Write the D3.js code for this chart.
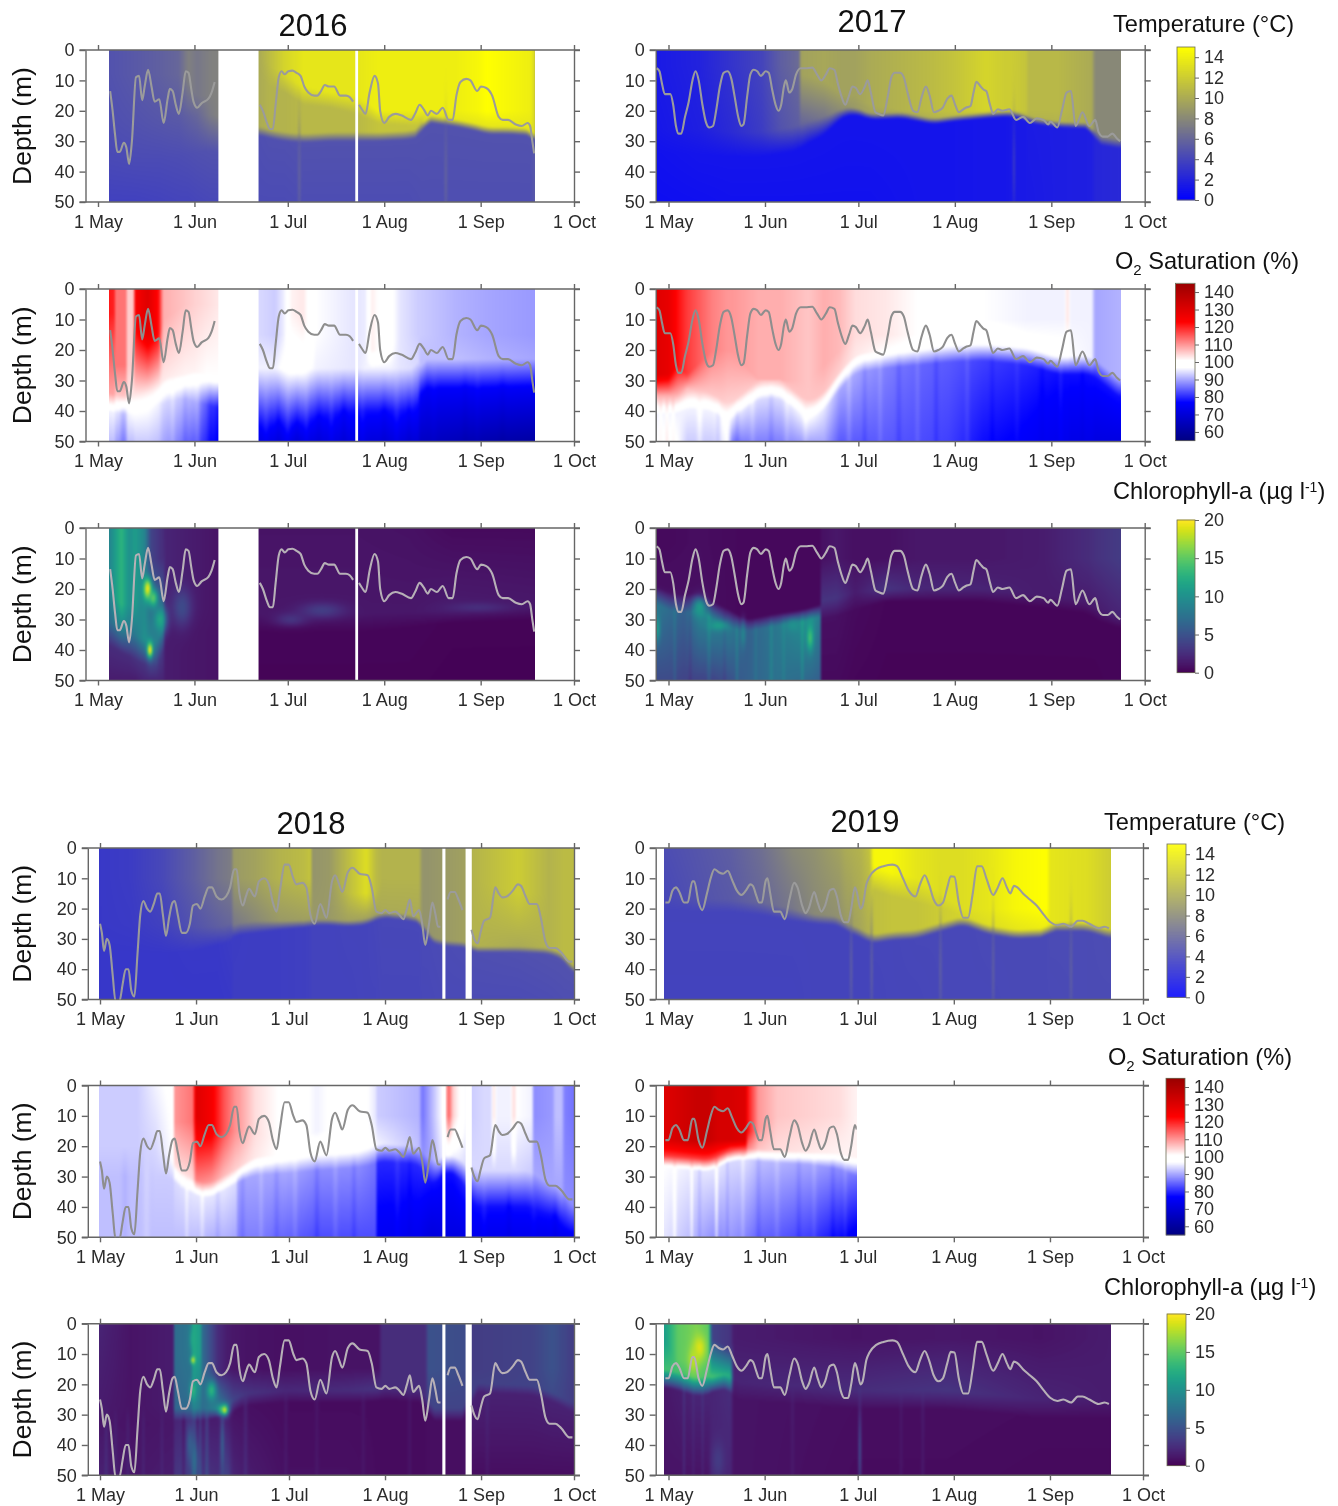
<!DOCTYPE html>
<html><head><meta charset="utf-8">
<script src="https://cdn.jsdelivr.net/npm/d3@7/dist/d3.min.js"></script>
<style>
html,body{margin:0;padding:0;background:#fff}
#wrap{position:relative;width:1338px;height:1506px;overflow:hidden}
canvas{position:absolute;z-index:1}
svg{position:absolute;left:0;top:0;z-index:2}
text{font-family:"Liberation Sans",Arial,sans-serif}
</style></head><body><div id="wrap"></div>
<script>
// ---------- Mixed-layer line, [day after 1 May, depth m] ----------
const line16a=[[3.9,13.5],[4.7,20],[5.5,28],[6.2,33.5],[7,33.5],[8.3,30.5],[9.1,32],[10,37.5],[10.9,30],[12.2,9],[13.2,8.5],[14.2,16.5],[15,12],[16.1,6.5],[17.2,12],[18.2,17],[19.7,16.2],[21.1,24],[22.4,16],[23.1,12.8],[24,13.5],[25,18],[26,21],[27.2,14],[28.2,7],[29.1,7.5],[30,13],[30.7,17],[31.9,19],[33.3,17.5],[35.5,16],[36.5,14],[37.5,10.5]];
const line16b=[[52,18],[53,20],[54.3,24],[55.3,26],[56.2,26],[57.1,18],[58.1,9],[59,7],[60,8],[61.2,7],[62.5,6.8],[63.8,7.5],[65.1,8.5],[66.3,12],[67.6,14],[69.5,15],[70.5,15],[71.7,13.5],[72.9,11.5],[74.2,12],[75.9,12],[77.8,15],[79.7,15],[80.9,15.5],[82,17]];
const line16c=[[83.9,18],[84.8,19.5],[86,21],[87.3,14],[88.9,8.5],[90,11],[90.7,20],[92,24],[93.6,22],[95.6,21],[97.5,21.5],[100.6,23],[101.9,21],[103.4,18],[104.7,19.5],[106,21.5],[107,20],[108.9,21],[110.8,19],[112.7,23],[114,23],[115.2,15],[116.5,10.5],[118.4,9.5],[119.7,10],[121.9,13.5],[123.1,12],[124.8,12.5],[126.7,15],[128.8,22],[130.1,23],[131.8,23],[134.3,24.5],[136.2,25],[138.1,24],[138.9,25],[139.6,30],[140.2,34]];
const line17=[[-3.8,6],[-2.9,7],[-2.1,11],[-1.2,14.5],[.6,14.5],[1.5,18],[2.4,25],[3.2,27.5],[4.1,27.5],[5.3,22],[6.5,17],[7.7,10],[8.7,7],[9.7,10],[10.9,18],[12.1,24],[13.1,25.5],[14.3,25],[15.3,20],[16.5,12],[17.7,7.5],[19,7],[20.2,9.5],[21.2,15],[22.4,22],[23.4,25],[24.1,24.5],[25.3,15],[26.3,8],[27.4,6.5],[28.5,7],[29.7,8.5],[31.2,7],[32.2,7.5],[33.3,13],[34.4,18],[35.3,20],[36.2,18],[37.1,12],[37.7,10],[38.8,14],[39.7,13],[41,8],[42.5,6],[44,6],[46.2,5.8],[47.7,8],[49.1,10],[50.6,8],[51.8,6],[53.3,6.5],[54.4,11],[55.5,15],[56.8,18],[58,15],[59.1,12],[60.2,12.5],[61.6,14.5],[63.1,12],[64,10],[65,14],[66.5,20.5],[67.5,21],[69,21.5],[70.5,15],[71.6,9],[72.7,7.5],[74.4,7.5],[75.6,9],[76.8,14],[78.6,20],[80,20.5],[81.2,16],[82.7,12],[83.9,15],[85.3,20.5],[86.7,20],[88.1,19],[89.6,16],[90.9,15],[92.1,18],[93.3,20.5],[94.7,19.5],[95.5,19],[97,18.5],[98,14],[98.9,10.5],[100.3,12],[101.2,13],[102.1,13.5],[103.3,18],[104.3,21],[105.8,19.5],[107.3,20],[109.5,19.5],[111.7,23],[113.9,22],[116.1,24],[118.3,22.5],[120.5,23],[122,24.5],[122.7,23.5],[124.9,25.5],[126.4,20],[127.9,14],[129.3,13.5],[130.8,25],[133,20.5],[135.2,25],[137.1,23],[138.2,27],[139.6,28.5],[141.1,28.5],[142.6,27.5],[144,29],[145.1,30]];
const line18a=[[0,25],[.6,28],[1.3,34],[2.2,30],[3.1,32],[4.1,42],[5,50.5],[6.3,50.5],[7.3,45],[8.3,40],[9.2,40],[10.1,47],[11.1,49],[12.1,35],[13,22],[14,17.5],[15.2,20],[16.2,21],[17.5,18],[18.5,15],[19.3,15],[20.3,22],[21.3,29],[22.3,23],[23.4,18],[24.1,17.5],[25.1,22],[26.4,28],[27.7,28],[29,25],[30,19],[31.3,18.5],[32.4,20],[33.8,16],[35.1,13],[36.1,13],[37.6,16],[39.2,17],[40.7,16],[42,13],[43.3,7],[44.1,7],[45,15],[46.1,19],[47.1,16],[48.1,13.5],[50,16],[51.3,11],[53,10],[54.5,12],[55.8,18],[57,21],[58.1,14],[59.6,5.5],[60.9,5.5],[62.4,10],[63.4,12],[65.3,11.5],[66.6,13],[67.9,22],[69.3,25],[71.1,18.5],[73.1,23],[74.9,11],[75.9,9],[77.2,12],[78.2,14.5],[80,8],[81.5,6.5],[83.8,8.5],[86.4,9],[87.7,13],[89.2,21],[90.9,21.5],[92.1,20.5],[93.4,21.5],[95.3,21],[96.6,22],[97.9,23.5],[99.1,20],[100,17],[101.1,22.5],[103,20.5],[104,25],[105,32],[106.2,25],[107.3,18],[108.3,22],[109.1,26],[109.9,26]];
const line18b=[[112.2,17],[113.2,14.5],[114.5,14.5],[115.7,17],[117,20.5]];
const line18c=[[119.9,27],[120.8,30],[121.9,31.5],[122.8,28],[124,24],[125.9,23],[127.6,13],[128.7,15],[129.8,16.3],[131.3,16],[133.3,14],[134.9,12],[135.9,12.5],[137.4,16],[138.7,18.5],[141,18.5],[142.3,23],[143.8,31],[145.1,33],[147,33],[148.9,34.5],[151.5,37.5],[152.5,37.5]];
const line19=[[-1,18],[0,18],[1.3,14],[2.4,13],[3.5,14.5],[5,18],[6.2,18],[7.7,11],[8.3,11],[9.7,18],[10.9,20.5],[12.4,15],[13.6,10],[14.8,7],[16.2,8],[17.6,8.5],[19.1,7.5],[20.5,10.5],[22,14],[23.5,15.5],[25,14],[26.4,12],[27.2,12.5],[28.4,16],[29.2,18],[30.1,18],[31.3,11],[31.9,10],[32.8,15],[34,21],[35.3,21],[36,21],[37.5,23.5],[39,17],[40.5,11.5],[41.6,13],[43.1,19],[44.2,21.5],[45.2,20],[47,14.5],[48.1,18],[49.3,21],[50.5,19],[52,14],[53.2,13.5],[54.3,16],[55.5,22],[56.7,24.5],[57.9,24.5],[58.9,20],[60.1,13],[60.7,14.5],[61.9,20],[62.6,19],[63.8,12],[64.8,9.5],[67,7],[69.3,6],[72.2,5.5],[73.7,6],[75.6,10],[77.4,14],[79.6,16],[81.1,12],[82.6,9],[84,12],[85.5,17],[87,19],[88.5,18],[89.9,13],[91,9.3],[92.2,9.5],[93.6,18],[95.1,23],[96.6,23],[98.1,15],[99.5,6],[101,6],[102.5,10],[104.7,15.5],[106.2,13],[107.7,10],[109.1,13],[110.2,15],[111.4,12.5],[112.5,13],[114.3,15],[116.5,17],[118.7,19],[121,22],[123.2,24.5],[125.4,25.5],[127.3,25],[129.8,26],[132,24],[133.5,24],[135.7,25],[138.7,26.5],[140.6,26],[142,26.5]];

// ---------- Profiles read per date: [day, surface, hold depth, upper, interface depth, lower, deep, soft, optional depth where upper is reached] ----------
const temp16=[[3.6,4.8,8,4.6,30,4.3,3.8,6],[12,5.2,8,4.8,30,4.4,3.8,6],[20,5.6,8,5,30,4.4,3.9,6],[26,6,8,5.2,29,4.5,4,6],[29,7.5,10,5.6,28,4.6,4,6],[32,7,15,6,28,4.7,4.1,6],[36,7.5,15,7.2,27,4.8,4.2,6],[38.7,7.6,15,7.6,28,4.8,4.2,6],
[51.6,10,0,10,26.5,4.6,4.4,1.5,8],[55,11,5,10.5,27.5,4.7,4.4,1.5,12],[60,12.5,8,10.5,28.5,4.7,4.4,1.5,14],[66,13.5,12,10.8,29,4.8,4.5,1.5,18],[75,13.5,14,10.8,28.5,4.8,4.5,1.5,19],[83,13.5,15,10.8,28.5,4.8,4.5,1.5,21],[90,14,20,11.5,28.5,4.8,4.5,1.5,24],[100,14,20,11.5,28,4.8,4.5,1.5,25],[104,14,20,11.5,27,4.8,4.6,1.5,25],[105,14,20,13,22.5,4.8,4.6,1.2],[115,14,20,13.5,24,4.8,4.6,1.2],[122,14.5,20,13.5,25.5,4.8,4.6,1.2],[125,15,20,13.5,26.5,4.8,4.6,1.2],[132,14.5,20,13.5,26.5,4.8,4.6,1.2],[139,14,20,13.5,27,4.8,4.6,1.2],[140.2,13,20,13,28,5,5,1.2],[140.6,8,20,8,30,6,6,1.2]];
const temp17=[[-4,1.5,5,1.3,30,1,.8,4],[10,2,5,1.8,30,1.2,.9,4],[20,3,5,2.5,31,1.2,1,4],[30,4,5,3.5,31,1.2,1,4],[36,5.5,5,4.8,30,1.2,1,4],[42,6.3,5,5.5,29,1.2,1,4],[42.5,9.5,8,6,28,1.2,1,4],[50,9.8,10,7,25,1.2,1,3],[56,9.5,15,8.5,20.5,1.2,1,1.5],[60,9.5,15,9,20,1.2,1,1.2],[65,10,18,9.5,22,1.2,1,1],[75,10.5,20,9.8,21.5,1.2,1.1,1],[85,11,20,10.5,23.5,1.2,1.2,1],[92,11.5,20,11,22.5,1.2,1.2,1],[102,12.5,20,11.5,21.5,1.3,1.3,1],[108,12,20,11.5,21,1.3,1.3,1],[110,12,20,11,21,1.4,1.4,1],[115,11.5,20,11,22,1.5,1.5,1],[115.5,10.8,20,10.5,23,1.6,1.5,1],[125,10.8,20,10.5,24.5,1.7,1.7,1],[136,10,20,10,25,1.8,1.8,1],[137,8,20,8,29.5,2.2,2.2,1.5],[145.5,8,20,8,31,2.4,2.4,1.5]];
const oxy16=[[3.6,121,8,109,37,96,92,3],[5.3,120,8,109,37,96,92,3],[5.5,113,25,106,38,95,90,3],[9,113,25,106,38,93,88,3],[9.5,105,25,103,38,96,92,3],[11.4,106,25,103,38,97,92,3],[11.9,124,12,103,38,97,93,3],[16,130,14,103,37,97,93,3],[19.5,122,15,103,35,96,92,3],[21,108,10,103,33,94,90,4],[28,106,5,102,32,92,86,4],[31,105,5,102,32,90,84,5],[35,104,5,101,33,84,80,5],[38.7,103,5,101,34,79,76,5],
[51.6,94,15,96,35,78,73,9],[57,93,15,96,35,78,73,9],[60,96,15,98,35,78,73,9],[62,102,8,99,35,78,72,9],[66,103,10,99,35,78,72,9],[70,97,15,96,34,78,72,8],[82,95,15,95,33,78,72,7],[83,95,15,95,33,78,72,7],[86,95.5,15,96,33,78,72,7],[88,102.5,20,96,33,78,71,7],[90,101,20,96,33,78,71,7],[94,98,20,96,33,78,71,7],[97,95,15,95,33,78,71,7],[103,93,15,94,33,78,70,7],[103.5,93,15,92,28,76,67,5],[115,91,15,92,28,76,65,5],[125,90,15,91,28,76,63,5],[140.6,89,15,90,28,75,61,5]];
const oxy17=[[-4,130,28,108,38,96,97,3],[0,128,28,108,38,96,98,3],[3,122,25,108,38,96,97,3],[6,118,28,106,36,96,93,3],[14,112,20,106,37,96,93,3],[19,110,20,105,41,98,97,3],[20.5,110,20,105,40,95,87,3],[29,108,30,106,33,94,87,3],[36,108,30,106,33,94,87,3],[45,106,30,106,40,97,90,3],[50,108,25,106,37,95,90,3],[55,107,20,105,30,90,84,3],[60,104,15,103,24.5,90,84,3],[70,103,15,101,23,87,84,3],[80,101,15,100,22,85,83,3],[90,98,10,99,21,84,82,3],[101,97,10,99,20.5,82,78,3],[115,96,10,98,22,80,76,3],[125,96,10,98,25,78,74,3],[127.3,96,10,98,25,78,74,3],[127.8,103,10,98,25,78,74,3],[128.6,103,10,98,25,78,74,3],[129,96,10,97,25,78,73,3],[136,96,10,96,25,78,73,3],[137,90,10,90,26,78,72,3],[145.5,91,10,91,33,78,72,3]];
const chl16=[[3.6,9,20,7,34,2.5,1.5,4],[7.5,13,25,9,37,2.5,1.5,4],[10,10,25,8,38,2.5,1.5,4],[12,11,25,8,39,2.8,1.5,4],[15,9,15,10,41,3,2,4],[17,4,10,9,41,4,2,4],[21,2.5,10,8,42,3,2,4],[21.5,2,0,2,30,1.5,1.5,4],[30,1.5,0,1.5,30,1.2,1.2,4],[38.7,1,0,1,30,1,1,4],
[51.6,1,0,1.2,31,.3,.2,3],[83,1,0,1.2,31,.3,.2,3],[100,.9,0,1.2,30,.3,.2,2.5],[114,.5,0,1.5,29,.2,.1,2],[140.6,.5,0,1.3,28,.2,.1,2]];
const chl17=[[-4,.5,5,.8,22,8,4.5,3],[0,.5,5,.8,24,7,4.5,3],[5,.6,5,.8,25,6,4,3],[10,.7,5,.8,24,9,4,3],[14,.6,5,.7,27,9,4,3],[20,.5,5,.5,30,8,5,3],[25,.4,5,.4,32,6,6,2],[35,.4,5,.4,30,8,7.5,2],[42,.4,5,.4,29,9.5,7,2],[46,.4,5,.4,28,10,6.5,2],[48.8,.4,5,.4,27,8,6,2],[49,.8,10,3,27,.8,.5,3],[54,1.2,10,3,26,.8,.5,3],[60,.8,10,1.5,24,.5,.3,3],[70,.8,10,3,22,.3,.2,2],[80,1.2,10,2.2,22,.3,.2,2],[100,1.2,10,2,22,.3,.2,2],[120,1.5,10,1.5,24,.3,.2,2],[135,2.5,10,1.5,26,.3,.2,2],[137,2.8,10,1.5,28,.3,.2,2],[145.5,3.5,10,2,31,.3,.3,2]];
const temp18=[[-.3,3.3,10,3.3,30,3.2,3.2,5],[10,3.5,10,3.4,30,3.2,3.2,5],[20,4.2,10,3.8,30,3.2,3.2,5],[30,5.5,10,4.8,30,3.3,3.2,4],[38,6.8,10,5.5,29,3.3,3.2,3],[42.5,7.3,10,6,28,3.5,3.3,3],[43,9,10,7,27,3.5,3.6,2],[50,9.5,10,8,26,3.6,3.6,2],[58,10.5,10,9,25.5,3.6,3.6,1.5],[66,11,10,9.3,25,3.7,3.7,1.2],[68,11.5,10,9.3,25,3.8,3.8,1.2],[68.5,8.7,10,9,24.5,3.9,3.9,1],[74,9,10,9,24.5,3.9,3.9,1],[80,11,15,9.5,25,4,3.9,1],[86,13,15,9.5,24.5,4,4,1],[89,11,15,9.5,23,4.1,4,1],[91,10.5,10,10,22,4.2,4.1,1],[100,10.5,10,10,23,4.2,4.1,1],[103,10.5,10,10,24,4.2,4.1,1],[104,8.7,10,8.7,24,4.3,4.2,1],[106,8.7,10,8.7,30,4.3,4.2,1],[111,9,10,9,31.5,4.4,4.3,1],[119,9.5,10,9.5,32,4.5,4.3,1],[120,10.5,10,10.5,33.5,4.6,4.4,1],[135,12,15,10,33.5,4.7,4.4,1],[145,10.5,15,10.5,34,4.8,4.5,1],[150,11,15,11,36,4.8,4.6,1.2],[153,11,15,11,41,4.8,4.6,1.2]];
const oxy18=[[-.3,93,0,93,25,92,92,5],[12,93,0,93,25,92,92,5],[18,96,0,94,25,93,92,5],[23.7,98,0,97,27,93,92,3],[24,110,12,104,30,94,92,3],[30,113,12,104,33,95,92,2.5],[31,130,10,112,34,95,92,2.5],[36,125,15,110,34.5,95,91,2.5],[40,116,15,107,32,95,91,2.5],[44,110,15,105,30,94,90,2.5],[44.5,110,15,105,29.5,90,87,2.5],[50,104,15,103,26.5,90,87,3],[60,100,20,100,26,90,85,3],[70,96,15,99,25,88,83,3],[83,100,15,99,24,88,83,3],[89,95,10,97,23,86,83,3],[89.5,93,10,96,22,80,75,3],[103,91,10,92,23,80,74,3],[104,86,10,88,24,80,73,3],[107,91,10,90,30,78,71,4],[111,98,10,96,26,78,72,3],[112.5,115,10,98,25,78,72,3],[114,105,10,96,26,78,72,3],[119,95,10,94,30,80,72,4],[120,93,10,94,34,78,74,6],[124,94,10,94,34,78,74,6],[126.3,94,10,94,34,78,74,6],[126.8,103,10,94,34,78,74,6],[127.5,103,10,94,34,78,74,6],[128,96,10,94,34,78,74,6],[132.5,96,10,94,34,78,74,6],[133,103,10,94,34,78,74,6],[134,104,10,94,34,78,74,6],[134.5,97,10,94,34,78,74,6],[139.5,96,10,93,34,78,74,6],[140,88,10,90,35,78,74,6],[146,89,10,90,38,78,74,5],[147,92,10,90,38,78,74,5],[149,92,10,90,39,78,74,5],[150,87,10,88,42,78,74,5],[153,86,10,88,44,78,74,4]];
const chl18=[[-.3,2,0,1.5,30,1.2,1.8,3],[10,1,0,1,30,1,1.2,3],[23.7,1.5,0,1.5,30,1.2,1.5,3],[24,7,10,6.5,30,2,3,2],[29.5,8,10,7,30,2.5,3.5,2],[30,12,10,9,30,3.5,6,2],[32.5,11,10,8,30,3,5,2],[33,7,10,7,30,1.5,3,2],[38,2.5,16,9,29.5,1.5,2.5,1.5],[41,1.5,15,6,29,1.5,4,1.5],[43,1.2,15,4,27,1,2,2],[47,1,15,3,25,.8,1.5,2],[60,.8,15,2.2,24,.6,.8,2],[80,1,15,2.5,24,.6,.8,2],[90,1,15,3,23.5,.6,.6,2],[91,2.5,15,2.5,23,.6,.6,2],[105,2.5,15,2.5,24,.6,.6,2],[106,5,15,4,30,.7,.7,2],[119,4.5,15,4,30,.8,.8,2],[120,3.5,15,3.8,21,1.8,.7,1.5],[140,4,15,4,22,1.8,.7,1.5],[146,5,15,4.5,24,1.9,.7,1.5],[153,3.5,15,3.5,28,1.8,.7,1.5]];
const temp19=[[-1.4,4.5,0,4.2,18,4,3.9,2],[10,5,0,4.8,19,4,3.9,2],[20,5.5,0,5.2,19,4,3.9,2],[30,6.5,0,6,20,4,3.9,2],[40,8,0,7,22,4,3.9,2],[47,8.5,0,8,23.5,4,4,1.5],[55,9.5,0,8.5,24,4,4,1.5],[57,10,0,9,26,4,4,1.5],[62,10.5,0,9.8,28,4,4,1.5],[65,11.5,0,10.5,30,4,4,1.5],[66,14.5,6,11.2,30,4.1,4,1.5,14],[72,14.5,8,11.5,29,4.1,4.1,1.5,16],[80,13.5,10,11.5,28.5,4.2,4.1,1.5,18],[88,13,15,12,26,4.2,4.2,1.5,20],[95,13,20,12.5,24,4.2,4.2,1.5],[103,13.5,20,13,27,4.3,4.2,1.5],[112,14.5,20,13.5,28.5,4.3,4.3,1.5],[122,15,20,14,28,4.3,4.3,1.5],[123,13.5,20,13.5,26,4.4,4.3,1.5],[135,13,20,13,26,4.4,4.4,1.5],[142.6,12,20,12,28.5,4.5,4.4,1.5]];
const oxy19=[[-1.4,130,18,118,25,97,95,2],[9,135,18,118,26,95,91,2],[13,135,18,118,26.5,95,89,2],[16,132,18,118,25,95,88,2],[20,132,18,118,23,94,89,2],[25,130,18,118,22.5,94,87,2],[25.5,122,15,112,22.5,94,87,2],[29,110,15,106,23,92,85,2],[35,106,10,104,23.5,91,84,2],[45,105,10,103,24,90,82,2],[55,104,10,102,25,88,78,2.5],[60.7,102,10,102,27,86,75,3]];
const chl19=[[-1.4,11,5,14,18,1.2,1,3],[3,15,12,14,19,1.5,1,3],[9,16,12,15,21,2,1,3],[13,15,12,14,20.5,2,1,3],[14,4,5,14,20,2,2,2.5],[20,3,8,12,19,2.5,2,2.5],[21,1.5,5,2,22,1,1,3],[60,1,5,2.5,25,.7,.6,3],[90,1.2,5,3,25,.7,.6,3],[120,1,5,2,28,.6,.5,3],[142.6,1.5,5,1.5,28,.6,.5,3]];

// ---------- Local features: [day, depth, half-days, half-metres, value] ----------
const spots16=[[16,20,1.3,3.5,20],[17.8,23,1.5,3,15],[16.7,40,.9,2.5,20],[20,30,2,4,12],[27,26,3,6,4.5],[62,30,5,2,3],[72,27,7,2.5,3.6],[122,26,9,1.5,2.6]];
const spots17=[[45.5,36,1,4,14],[10,26,2,3,11],[16,32,3,1.5,11],[-3.5,33,.8,4,11],[24,35,.8,4,9],[40,32,2,2,10]];
const spots18=[[30,12,.7,1.2,19],[40,28.5,1.4,1.8,20],[36,22,1.5,3,13],[30,5,1,4,12],[30,22,1,3,13],[39.5,40,.6,10,6],[29,40,1,6,6],[30.5,45,1,6,7]];
const spots19=[[10,8,2,4,19],[8,12,1.5,4,18],[61.7,42,.4,14,5],[16,45,2,6,3.5]];
const streakT16=[[64.7,42,.35,16,6],[111.8,42,.35,16,6]];
const streakT17=[[111,38,.3,14,4]];
const streakT19=[[58.9,40,.3,16,6],[65.5,40,.3,16,6],[87.7,40,.3,16,6],[104.7,40,.3,16,6],[129.8,40,.3,16,6]];

// ---------- Vertical streaks below the interface: [day, half-days, change in value] ----------
const fingersO16=[[8,.8,-2],[24,.8,1.5],[28,.8,-1.5],[32,.8,2],[36,.8,-1.5],[54,1,2],[58,.8,-2],[61,1,2.5],[64,.8,-1.5],[67,.8,2],[71,1,-1.5],[75,.8,2],[79,1,-2],[85,.8,1.5],[92,1,-1.5],[96,1,2],[100,.8,-1.5],[108,1,1],[118,1,-1],[122,.8,1],[130,1,-1]];
const fingersO17=[[-2.5,.4,5],[-.5,.4,6],[1.5,.4,5],[10,.8,2],[16,.8,-2],[22,.8,-2],[27,.8,1.5],[33,.8,-1.5],[38,.8,1.5],[44,.8,1.5],[58,.8,2],[63,.7,-1.5],[68,.7,1.5],[74,.8,-1.5],[80,.7,1.5],[86,.7,-1.5],[96,.7,1.5],[104,.7,-1],[112,.7,1],[120,.8,-1],[126,.6,1.5],[133,.6,-1]];
const fingersO18=[[8,1,-1],[15,1,1],[28,.5,2],[33,.6,2],[38,.7,-1.5],[46,.7,-1.5],[52,.7,1.5],[57,.8,-1.5],[63,.8,1.5],[70,.7,-1.5],[76,.8,1.5],[82,.7,-1.5],[96,.8,1.5],[100,.7,-1],[124,.8,1.5],[132,.7,-1.5],[140,.8,1],[147,.8,-1.5]];
const fingersO19=[[2,.5,3],[7.5,.4,4],[10,.5,-2],[15.5,.4,6],[19,.4,-2],[24,.6,2],[29,.7,-1.5],[35,.8,1.5],[42,.7,-1.5],[47,.7,1.5],[53,.7,-1.5],[57,.6,1.5]];
const fingersC17=[[2,.4,1.5],[7,.4,-1],[13,.5,1.5],[18,.4,-1],[22,.4,2],[28,.5,1],[33,.5,1.5],[37,.5,1],[43,.4,2]];
const fingersC18=[[2,.5,1],[5,.4,.7],[9,.4,.8],[14,.4,.8],[20,.4,.7],[27,.4,-1.5],[31.5,.4,-2],[34.5,.5,2],[47,.6,1],[60,.5,.6],[70,.5,.5],[85,.5,.5],[100,.5,.5],[125,.5,.5]];
const fingersC19=[[5,.3,1.5],[8,.3,.8],[11,.3,1],[40,.5,.6],[75,.4,.6],[82,.4,.8]];

// ---------- Missing-data spans (days) ----------
const gaps16=[[38.7,51.6],[82.7,83.6]];
const gaps18=[[110.5,111.5],[118,120]];
const none=[];

// ---------- Tick values ----------
const monthDays=[0,31,61,92,123,153];
const depthTicks=[0,10,20,30,40,50];
const tempTicks=[0,2,4,6,8,10,12,14];
const oxyTicks=[60,70,80,90,100,110,120,130,140];
const chlTicks=[0,5,10,15,20];

// ---------- Colour scales ----------
const colorT=d3.scaleLinear().domain([0,7.5,15]).range(["#0000ff","#808080","#ffff00"]).clamp(true);
const colorO=d3.scaleLinear().domain([55,77,97,101,123,145]).range(["#000080","#0000ff","#ffffff","#ffffff","#ff0000","#9a0000"]).clamp(true);
const colorC=v=>d3.interpolateViridis(Math.max(0,Math.min(1,v/20)));
const kinds={T:{color:colorT,dom:[0,15],ticks:tempTicks,line:"#9b9b9b"},
             O:{color:colorO,dom:[55,145],ticks:oxyTicks,line:"#8e8e8e"},
             C:{color:colorC,dom:[0,20],ticks:chlTicks,line:"#b7b0b7"}};

// ---------- Layout ----------
const rowsTop=[[50,202],[289,441.5],[528,680.5]];
const rowsBot=[[848,999.5],[1085.5,1237.3],[1323.7,1475.3]];
const years=[
 {year:2016,frame:85.5,x0:98,x1:574,rows:rowsTop,title:[313,36],lines:[line16a,line16b,line16c],gaps:gaps16,T:temp16,O:oxy16,C:chl16,sT:streakT16,sO:none,sC:spots16,fT:none,fO:fingersO16,fC:none,depthLabel:true},
 {year:2017,frame:655.7,x0:668.5,x1:1144.7,rows:rowsTop,title:[872,32],lines:[line17],gaps:none,T:temp17,O:oxy17,C:chl17,sT:streakT17,sO:none,sC:spots17,fT:none,fO:fingersO17,fC:fingersC17},
 {year:2018,frame:87.8,x0:100,x1:574,rows:rowsBot,title:[311,834],lines:[line18a,line18b,line18c],gaps:gaps18,T:temp18,O:oxy18,C:chl18,sT:none,sO:none,sC:spots18,fT:none,fO:fingersO18,fC:fingersC18,depthLabel:true},
 {year:2019,frame:655.7,x0:668.5,x1:1143,rows:rowsBot,title:[865,832],lines:[line19],gaps:none,T:temp19,O:oxy19,C:chl19,sT:streakT19,sO:none,sC:spots19,fT:none,fO:fingersO19,fC:fingersC19}
];
const bars=[
 {k:"T",x:[1177,1195],y:[200,47]},{k:"O",x:[1175.5,1195],y:[440.7,283.3]},{k:"C",x:[1177,1195],y:[672.7,520]},
 {k:"T",x:[1167,1186],y:[997.3,844]},{k:"O",x:[1166,1185],y:[1235,1078.3]},{k:"C",x:[1167,1186],y:[1465.7,1314]}
];
const heads=[
 {x:1113,y:32,parts:[["Temperature (°C)"]]},
 {x:1115,y:269,parts:[["O"],["2",6,15],[" Saturation (%)",-6]]},
 {x:1113,y:499,parts:[["Chlorophyll-a (µg l"],["-1",-7,14],[")",7]]},
 {x:1104,y:830,parts:[["Temperature (°C)"]]},
 {x:1108,y:1065,parts:[["O"],["2",6,15],[" Saturation (%)",-6]]},
 {x:1104,y:1295,parts:[["Chlorophyll-a (µg l"],["-1",-7,14],[")",7]]}
];

const wrap=d3.select("#wrap");
const dayMs=86400000;
const mix=(a,b,t)=>a+(b-a)*t;

function profile(r,z){
  const [,s,h0,u,e,l,dp,soft,m0]=r;
  const a=e-soft,b=e+soft,m=Math.min(m0,a),h=Math.min(h0,m);
  if(z<h) return s;
  if(z<m) return mix(s,u,(z-h)/Math.max(1e-6,m-h));
  if(z<a) return u;
  if(z<b) return mix(u,l,(z-a)/(b-a));
  return mix(l,dp,(z-b)/Math.max(1e-6,50-b));
}
function rowAt(rows,day){
  const i=d3.bisector(r=>r[0]).left(rows,day);
  if(i<=0) return rows[0];
  if(i>=rows.length) return rows[rows.length-1];
  const a=rows[i-1],b=rows[i],t=(day-a[0])/(b[0]-a[0]);
  return a.map((v,j)=>mix(v,b[j],t));
}

function heatmap(k,rows0,spots,fingers,x,yS,gaps,baseDate){
  const cfg=kinds[k];
  const rows=rows0.map(r=>r.length>8?r:[...r,r[4]-r[7]]);
  const d0=rows[0][0],d1=rows[rows.length-1][0];
  const toDay=px=>(x.invert(px)-baseDate)/dayMs;
  const fromDay=d=>x(new Date(+baseDate+d*dayMs));
  const pxL=Math.round(fromDay(d0)),pxR=Math.round(fromDay(d1));
  const pxT=Math.round(yS(0)),pxB=Math.round(yS(50));
  const w=pxR-pxL,h=pxB-pxT;
  const off=document.createElement("canvas");off.width=w;off.height=h;
  const octx=off.getContext("2d");
  const img=octx.createImageData(w,h);
  for(let i=0;i<w;i++){
    const day=toDay(pxL+i+.5),r=rowAt(rows,day).slice();
    r[4]=d3.mean([-2,-1,0,1,2],q=>rowAt(rows,day+q)[4]);
    let bump=0;
    for(const [fd,fw,fv] of fingers) bump+=fv*Math.exp(-(((day-fd)/fw)**2));
    for(let j=0;j<h;j++){
      const z=yS.invert(pxT+j+.5);
      let v=profile(r,z);
      if(bump) v+=bump*Math.max(0,Math.min(1,(z-(r[4]-r[7]))/Math.max(1,2*r[7])));
      for(const [sd,sz,rd,rz,sv] of spots){
        const q=((day-sd)/rd)**2+((z-sz)/rz)**2;
        if(q<6){v+=(sv-v)*Math.exp(-q);}
      }
      const c=d3.rgb(cfg.color(v)),o=(j*w+i)*4;
      img.data[o]=c.r;img.data[o+1]=c.g;img.data[o+2]=c.b;img.data[o+3]=255;
    }
  }
  octx.putImageData(img,0,0);
  const cv=wrap.append("canvas").attr("width",w).attr("height",h)
    .style("left",pxL+"px").style("top",pxT+"px");
  const ctx=cv.node().getContext("2d");
  ctx.drawImage(off,0,0);
  ctx.filter="blur(1px)";
  ctx.drawImage(off,0,0);
  ctx.filter="none";
  ctx.fillStyle="#fff";
  for(const [g0,g1] of gaps){
    ctx.fillRect(fromDay(g0)-pxL,0,fromDay(g1)-fromDay(g0),h);
  }
  return [d0,d1];
}

const svg=wrap.append("svg").attr("width",1338).attr("height",1506);
const axisColor="#666";

function styleAxis(g){
  g.selectAll("path,line").attr("stroke",axisColor).attr("stroke-width",1.4);
  g.selectAll("text").attr("font-size",18).attr("fill","#2b2b2b")
    .attr("font-family",'"Liberation Sans",Arial,sans-serif');
}

years.forEach(Y=>{
  const base=new Date(Date.UTC(Y.year,4,1));
  const date=d=>new Date(+base+d*dayMs);
  const x=d3.scaleUtc().domain([date(0),date(153)]).range([Y.x0,Y.x1]);
  const ticks=monthDays.map(date);
  ["T","O","C"].forEach((k,ri)=>{
    const [top,bot]=Y.rows[ri];
    const yS=d3.scaleLinear().domain([0,50]).range([top,bot]);
    const [d0,d1]=heatmap(k,Y[k],Y["s"+k],Y["f"+k],x,yS,Y.gaps,base);
    const g=svg.append("g");
    const left=g.append("g").attr("transform",`translate(${Y.frame},0)`)
      .call(d3.axisLeft(yS).tickValues(depthTicks).tickSize(6).tickSizeOuter(0).tickPadding(5));
    styleAxis(left);
    const right=g.append("g").attr("transform",`translate(${Y.x1},0)`)
      .call(d3.axisRight(yS).tickValues(depthTicks).tickSize(6).tickSizeOuter(0).tickFormat(""));
    styleAxis(right);
    const xr=[Y.frame-6,Y.x1+6];
    const bottom=g.append("g").attr("transform",`translate(0,${bot})`)
      .call(d3.axisBottom(x).tickValues(ticks).tickFormat(d3.utcFormat("%-d %b")).tickSize(5).tickSizeOuter(0).tickPadding(8));
    styleAxis(bottom);bottom.select(".domain").remove();
    const topA=g.append("g").attr("transform",`translate(0,${top})`)
      .call(d3.axisTop(x).tickValues(ticks).tickFormat("").tickSize(5).tickSizeOuter(0));
    styleAxis(topA);topA.select(".domain").remove();
    [top,bot].forEach(yy=>g.append("line").attr("x1",xr[0]).attr("x2",xr[1]).attr("y1",yy).attr("y2",yy).attr("stroke",axisColor).attr("stroke-width",1.4));
    const clipId=`clip${Y.year}${k}`;
    svg.append("clipPath").attr("id",clipId).append("rect")
      .attr("x",x(date(d0))).attr("width",x(date(d1))-x(date(d0))).attr("y",top).attr("height",bot-top);
    const lg=d3.line().x(p=>x(date(p[0]))).y(p=>yS(p[1])).curve(d3.curveMonotoneX);
    Y.lines.forEach(l=>{
      g.append("path").datum(l.filter(p=>p[0]<=d1+.01)).attr("d",lg).attr("fill","none")
        .attr("stroke",kinds[k].line).attr("stroke-width",2.1).attr("stroke-linejoin","round")
        .attr("clip-path",`url(#${clipId})`);
    });
    if(Y.depthLabel){
      g.append("text").attr("transform",`translate(31,${(top+bot)/2}) rotate(-90)`)
        .attr("text-anchor","middle").attr("font-size",26.5).attr("fill","#111").text("Depth (m)");
    }
  });
  svg.append("text").attr("x",Y.title[0]).attr("y",Y.title[1]).attr("text-anchor","middle")
    .attr("font-size",31).attr("fill","#111").text(Y.year);
});

bars.forEach(b=>{
  const cfg=kinds[b.k];
  const s=d3.scaleLinear().domain(cfg.dom).range(b.y);
  const g=svg.append("g");
  const n=Math.round(b.y[0]-b.y[1]);
  d3.range(n).forEach(i=>{
    const v=s.invert(b.y[0]-i-.5);
    g.append("rect").attr("x",b.x[0]).attr("width",b.x[1]-b.x[0]).attr("y",s(v)-.5).attr("height",1.3).attr("fill",cfg.color(v));
  });
  g.append("rect").attr("x",b.x[0]).attr("y",b.y[1]).attr("width",b.x[1]-b.x[0]).attr("height",b.y[0]-b.y[1])
    .attr("fill","none").attr("stroke","#6d6d55").attr("stroke-width",.8);
  const ax=g.append("g").attr("transform",`translate(${b.x[1]},0)`)
    .call(d3.axisRight(s).tickValues(cfg.ticks).tickSize(4).tickPadding(5).tickSizeOuter(0));
  ax.select(".domain").remove();
  ax.selectAll("line").attr("stroke","#666").attr("stroke-width",1);
  ax.selectAll("text").attr("font-size",18).attr("fill","#2b2b2b")
    .attr("font-family",'"Liberation Sans",Arial,sans-serif');
});

heads.forEach(h=>{
  const t=svg.append("text").attr("x",h.x).attr("y",h.y).attr("font-size",23.6).attr("fill","#111");
  h.parts.forEach(p=>{
    const s=t.append("tspan").text(p[0]);
    if(p[1]) s.attr("dy",p[1]);
    if(p[2]) s.attr("font-size",p[2]);
  });
});
</script></body></html>
